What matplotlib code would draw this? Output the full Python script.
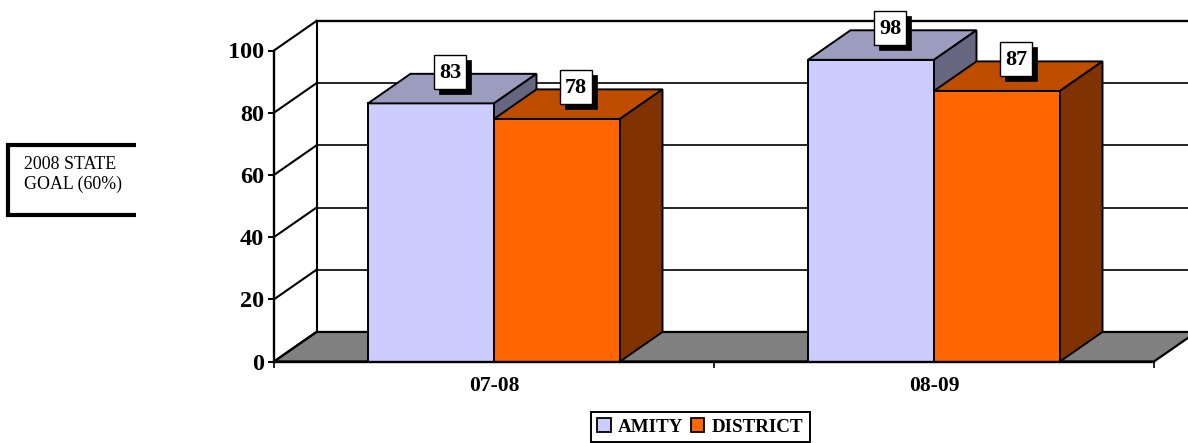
import matplotlib
matplotlib.use("Agg")
import matplotlib.pyplot as plt
from matplotlib.lines import Line2D
from matplotlib.patches import Polygon, Rectangle
from matplotlib.transforms import IdentityTransform

# Values
categories = ['07-08', '08-09']
series_names = ['AMITY', 'DISTRICT']
amity = [83, 97]  # the second bar is drawn a bit lower than its label says
district = [78, 87]
amity_labels = ['83', '98']
district_labels = ['78', '87']
y_ticks = [0, 20, 40, 60, 80, 100]

W, H = 1188, 443
plt.rcParams['font.family'] = ['Liberation Serif', 'DejaVu Serif']

# Colours: front, top, side
amity_colors = ('#CCCCFF', '#9C9CBE', '#666680')
district_colors = ('#FF6600', '#BF4D00', '#803300')
floor_color = '#808080'

# Depth of the fake 3D box in data units
depth_x = 42.5 / 440
depth_y = 9.5
bar_width = 126 / 440

fig = plt.figure(figsize=(W / 100, H / 100), dpi=100)
ax = fig.add_axes([274 / W, 1 - 361.5 / H, 880 / W, 311 / H])
ax.set_xlim(0, 2)
ax.set_ylim(0, 100)
ax.patch.set_visible(False)
for name in ['top', 'right']:
    ax.spines[name].set_visible(False)
for name in ['left', 'bottom']:
    ax.spines[name].set_linewidth(1.7)
    ax.spines[name].set_zorder(6)

# Floor
ax.add_patch(Polygon([(0, 0), (2, 0), (2 + depth_x, depth_y), (depth_x, depth_y)],
                     closed=True, facecolor=floor_color, edgecolor='black',
                     linewidth=1.6, clip_on=False, zorder=1))

# Walls and gridlines
for v in y_ticks:
    ax.plot([0, depth_x], [v, v + depth_y], color='black', lw=1.5, clip_on=False, zorder=2)
    if v > 0:
        ax.plot([depth_x, 2 + depth_x], [v + depth_y, v + depth_y], color='black',
                lw=1.7 if v == 100 else 1.2, clip_on=False, zorder=2)
ax.plot([depth_x, depth_x], [depth_y, 100 + depth_y], color='black', lw=1.5, clip_on=False, zorder=2)


def draw_bar(left, value, colors):
    right = left + bar_width
    ax.bar(left, value, width=bar_width, align='edge', color=colors[0],
           edgecolor='black', linewidth=1.4, zorder=3)
    ax.add_patch(Polygon([(left, value), (right, value),
                          (right + depth_x, value + depth_y), (left + depth_x, value + depth_y)],
                         closed=True, facecolor=colors[1], edgecolor='black',
                         linewidth=1.4, clip_on=False, zorder=3))
    ax.add_patch(Polygon([(right, 0), (right + depth_x, depth_y),
                          (right + depth_x, value + depth_y), (right, value)],
                         closed=True, facecolor=colors[2], edgecolor='black',
                         linewidth=1.4, clip_on=False, zorder=3))


def draw_label(left, value, text):
    # white card with a hard black shadow, sized in pixels
    cx, cy = ax.transData.transform((left + bar_width / 2 + depth_x / 2, value + depth_y / 2))
    cx -= 2
    cy += 17
    w, h = 32, 34
    ax.add_patch(Rectangle((cx - w / 2 + 5, cy - h / 2 - 5), w, h, facecolor='black',
                           edgecolor='black', lw=0.5, transform=IdentityTransform(),
                           clip_on=False, zorder=7))
    ax.add_patch(Rectangle((cx - w / 2, cy - h / 2), w, h, facecolor='white',
                           edgecolor='black', lw=1.0, transform=IdentityTransform(),
                           clip_on=False, zorder=8))
    ax.text(cx, cy - 1, text, ha='center', va='center', fontsize=16, fontweight='bold',
            transform=IdentityTransform(), zorder=9)


for i in range(len(categories)):
    center = i + 0.5
    draw_bar(center - bar_width, amity[i], amity_colors)
    draw_bar(center, district[i], district_colors)

for i in range(len(categories)):
    center = i + 0.5
    draw_label(center - bar_width, amity[i], amity_labels[i])
    draw_label(center, district[i], district_labels[i])

# Axes ticks and labels
ax.set_yticks(y_ticks)
ax.set_yticklabels([str(v) for v in y_ticks], fontsize=17.5, fontweight='bold')
ax.tick_params(axis='y', length=4, width=1.4, pad=3)
ax.set_xticks([0, 1, 2])
ax.set_xticklabels([])
ax.tick_params(axis='x', which='major', length=4.5, width=1.2)
ax.set_xticks([i + 0.5 for i in range(len(categories))], minor=True)
ax.set_xticklabels(categories, minor=True, fontsize=15.5, fontweight='bold')
ax.tick_params(axis='x', which='minor', length=0, pad=10.5)

# Legend
handles = [Rectangle((0, 0), 1, 1, facecolor=amity_colors[0], edgecolor='black', lw=1.3),
           Rectangle((0, 0), 1, 1, facecolor=district_colors[0], edgecolor='black', lw=1.3)]
leg = fig.legend(handles, series_names, ncol=2, loc='center',
                 bbox_to_anchor=(700.5 / W, 1 - 427 / H),
                 prop={'weight': 'bold', 'size': 13.7}, fancybox=False, edgecolor='black',
                 framealpha=1, handlelength=0.7, handleheight=0.7, handletextpad=0.4,
                 columnspacing=0.4, borderpad=0.35, borderaxespad=0)
leg.get_frame().set_linewidth(1.4)

# Goal note on the left, box open on its right side
note_x = [136 / W, 8 / W, 8 / W, 136 / W]
note_y = [1 - 145 / H, 1 - 145 / H, 1 - 215 / H, 1 - 215 / H]
fig.add_artist(Line2D(note_x, note_y, color='black', lw=3, solid_joinstyle='miter',
                      solid_capstyle='butt'))
fig.text(24 / W, 1 - 174.5 / H, '2008 STATE\nGOAL (60%)', fontsize=12.9, ha='left',
         va='center', linespacing=1.2)

fig.savefig('out.png', dpi=100)
